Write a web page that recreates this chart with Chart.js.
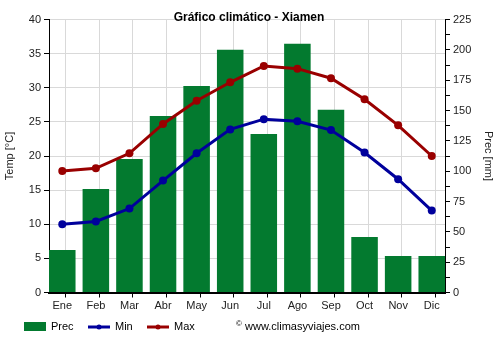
<!DOCTYPE html>
<html>
<head>
<meta charset="utf-8">
<script src="https://cdn.jsdelivr.net/npm/chart.js@4/dist/chart.umd.min.js"></script>
<style>
  html, body { margin: 0; padding: 0; background: #fff; }
  #wrap { width: 500px; height: 350px; }
</style>
</head>
<body>
<div id="wrap"><canvas id="clima" width="500" height="350"></canvas></div>
<script>
// Monthly climate data for Xiamen
const months = ['Ene', 'Feb', 'Mar', 'Abr', 'May', 'Jun', 'Jul', 'Ago', 'Sep', 'Oct', 'Nov', 'Dic'];
const precMm = [35, 85.3, 110, 145.5, 170.2, 200, 130.6, 205, 150.6, 45.7, 30.1, 30.1];
const tempMin = [10.0, 10.4, 12.3, 16.4, 20.4, 23.9, 25.4, 25.1, 23.8, 20.5, 16.6, 12.0];
const tempMax = [17.8, 18.2, 20.4, 24.7, 28.1, 30.8, 33.2, 32.8, 31.4, 28.3, 24.5, 20.0];
const tempTicks = [0, 5, 10, 15, 20, 25, 30, 35, 40];
const precTicks = [0, 25, 50, 75, 100, 125, 150, 175, 200, 225];

const FONT = "'Liberation Sans', Arial, sans-serif";
const GREEN = '#037a2f';
const BLUE = '#00009c';
const RED = '#990000';
const GRID = '#d9d9d9';

// bars sit left-aligned in each month slot, so the slot edge is a bit left of the index
const EDGE = 0.395;

// title, legend and credit line drawn straight onto the canvas
const decorations = {
    id: 'decorations',
    afterDraw(chart) {
        const ctx = chart.ctx;
        ctx.save();
        ctx.fillStyle = '#000';
        ctx.textBaseline = 'middle';
        ctx.textAlign = 'center';
        ctx.font = 'bold 12px ' + FONT;
        ctx.fillText('Gráfico climático - Xiamen', 249, 18);

        ctx.textAlign = 'left';
        ctx.font = '11px ' + FONT;
        const y = 327;
        // Prec
        ctx.fillStyle = GREEN;
        ctx.fillRect(24, y - 5, 22, 9);
        ctx.fillStyle = '#000';
        ctx.fillText('Prec', 51, y);
        // Min / Max
        [[88, BLUE, 'Min'], [147, RED, 'Max']].forEach(([x, col, txt]) => {
            ctx.strokeStyle = col;
            ctx.lineWidth = 3;
            ctx.beginPath();
            ctx.moveTo(x, y);
            ctx.lineTo(x + 22, y);
            ctx.stroke();
            ctx.fillStyle = col;
            ctx.beginPath();
            ctx.arc(x + 11, y, 2.5, 0, Math.PI * 2);
            ctx.fill();
            ctx.fillStyle = '#000';
            ctx.fillText(txt, x + 27, y);
        });
        ctx.font = '8px ' + FONT;
        ctx.fillText('©', 236, y - 3);
        ctx.font = '11px ' + FONT;
        ctx.fillText('www.climasyviajes.com', 245, y);
        ctx.restore();
    }
};

new Chart(document.getElementById('clima'), {
    type: 'bar',
    data: {
        labels: months.map((m, i) => i),
        datasets: [
            {
                type: 'line',
                label: 'Max',
                data: tempMax,
                yAxisID: 'y',
                borderColor: RED,
                backgroundColor: RED,
                borderWidth: 3,
                pointRadius: 4,
                pointBorderWidth: 0,
                pointHoverRadius: 4,
                tension: 0,
                order: 0
            },
            {
                type: 'line',
                label: 'Min',
                data: tempMin,
                yAxisID: 'y',
                borderColor: BLUE,
                backgroundColor: BLUE,
                borderWidth: 3,
                pointRadius: 4,
                pointBorderWidth: 0,
                pointHoverRadius: 4,
                tension: 0,
                order: 1
            },
            {
                type: 'bar',
                label: 'Prec',
                data: precMm,
                yAxisID: 'y1',
                backgroundColor: GREEN,
                categoryPercentage: 1,
                barPercentage: 0.79,
                order: 2
            }
        ]
    },
    options: {
        responsive: false,
        animation: false,
        layout: { padding: { top: 19.5, left: 0, right: 0, bottom: 0 } },
        plugins: {
            legend: { display: false },
            title: { display: false },
            tooltip: { enabled: false }
        },
        scales: {
            x: {
                type: 'linear',
                offset: false,
                min: -EDGE,
                max: months.length - 1 + EDGE,
                afterBuildTicks: scale => {
                    scale.ticks = months.map((m, i) => ({ value: i - EDGE }));
                },
                afterFit: scale => { scale.height = 57.5; },
                ticks: {
                    autoSkip: false,
                    maxRotation: 0,
                    labelOffset: 13.3,
                    padding: 2,
                    color: '#222',
                    font: { family: FONT, size: 11 },
                    callback: (v, i) => months[i]
                },
                grid: { color: GRID, tickColor: '#000', tickLength: 5 },
                border: { color: '#000', width: 2 }
            },
            y: {
                position: 'left',
                min: tempTicks[0],
                max: tempTicks[tempTicks.length - 1],
                afterBuildTicks: scale => {
                    scale.ticks = tempTicks.map(v => ({ value: v }));
                },
                afterFit: scale => { scale.width = 49; },
                ticks: {
                    color: '#222',
                    padding: 3,
                    font: { family: FONT, size: 11 }
                },
                grid: { color: GRID, tickColor: '#000', tickLength: 5 },
                border: { color: '#000', width: 1 },
                title: {
                    display: true,
                    text: 'Temp [°C]',
                    color: '#222',
                    padding: { top: 3.4, bottom: 0 },
                    font: { family: FONT, size: 11 }
                }
            },
            y1: {
                position: 'right',
                min: precTicks[0],
                max: precTicks[precTicks.length - 1],
                afterBuildTicks: scale => {
                    // minor marks halfway between labelled ticks
                    const t = [];
                    precTicks.forEach((v, i) => {
                        t.push({ value: v });
                        if (i < precTicks.length - 1) t.push({ value: (v + precTicks[i + 1]) / 2 });
                    });
                    scale.ticks = t;
                },
                afterFit: scale => { scale.width = 55; },
                ticks: {
                    autoSkip: false,
                    color: '#222',
                    padding: 3,
                    font: { family: FONT, size: 11 },
                    callback: v => (precTicks.includes(v) ? v : '')
                },
                grid: { drawOnChartArea: false, tickColor: '#000', tickLength: 5 },
                border: { color: '#000', width: 1 },
                title: {
                    display: true,
                    text: 'Prec [mm]',
                    color: '#222',
                    padding: { top: 5.4, bottom: 0 },
                    font: { family: FONT, size: 11 }
                }
            }
        }
    },
    plugins: [decorations]
});
</script>
</body>
</html>
